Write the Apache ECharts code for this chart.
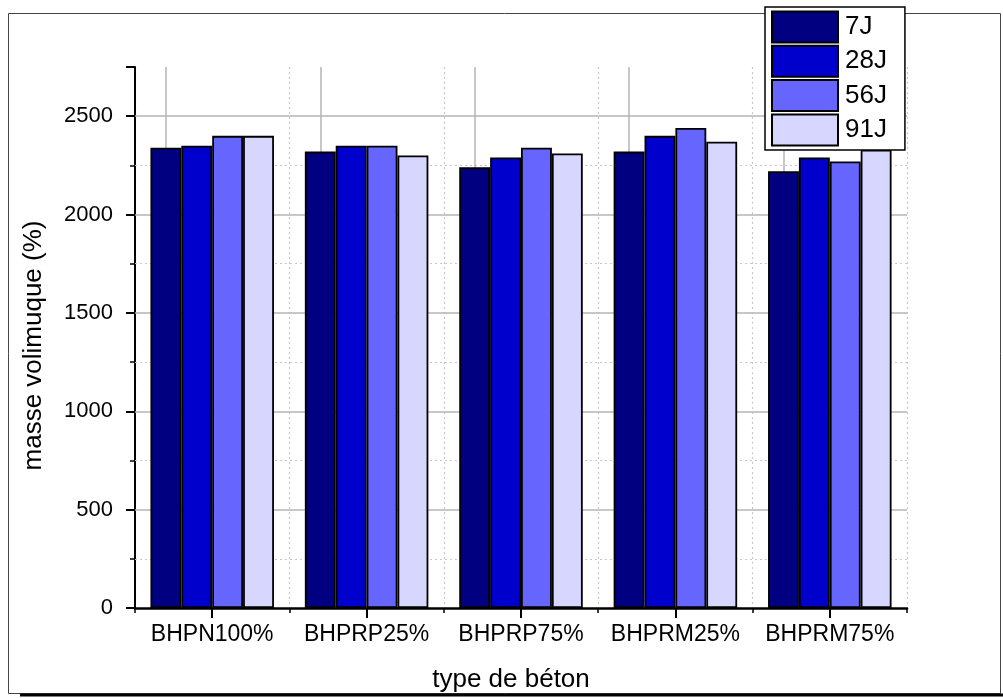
<!DOCTYPE html>
<html>
<head>
<meta charset="utf-8">
<script src="https://cdn.jsdelivr.net/npm/echarts@6/dist/echarts.min.js"></script>
<style>
html,body{margin:0;padding:0;background:#fff;}
#chart{width:1003px;height:698px;}
</style>
</head>
<body>
<div id="chart"></div>
<script>
const categories = ['BHPN100%', 'BHPRP25%', 'BHPRP75%', 'BHPRM25%', 'BHPRM75%'];
const seriesNames = ['7J', '28J', '56J', '91J'];
const values7J  = [2340, 2320, 2240, 2320, 2220];
const values28J = [2350, 2350, 2290, 2400, 2290];
const values56J = [2400, 2350, 2340, 2440, 2270];
const values91J = [2400, 2300, 2310, 2370, 2330];
const majorGridValues = [500, 1000, 1500, 2000, 2500];
const minorGridValues = [250, 750, 1250, 1750, 2250];
const yMax = 2750;

const colors = ['#000080', '#0000CD', '#6666FF', '#D6D6FF'];
const allValues = [values7J, values28J, values56J, values91J];
const FONT = '"Liberation Sans", Arial, sans-serif';

const chart = echarts.init(document.getElementById('chart'), null, {renderer: 'canvas'});

const gridMarkData = []
  .concat(majorGridValues.map(v => ({yAxis: v, lineStyle: {color: '#b4b4b4', width: 1.5, type: 'solid'}})))
  .concat(minorGridValues.map(v => ({yAxis: v, lineStyle: {color: '#c8c8c8', width: 1.2, type: [2, 3]}})))
  .concat(categories.map(c => ({xAxis: c, lineStyle: {color: '#b4b4b4', width: 1.5, type: 'solid'}})));

const series = seriesNames.map((name, i) => {
  const s = {
    name: name,
    type: 'bar',
    xAxisIndex: 0,
    yAxisIndex: 0,
    data: allValues[i],
    barGap: '0%',
    barCategoryGap: '20%',
    z: 2,
    itemStyle: {color: colors[i], borderColor: '#000', borderWidth: 1.8},
    emphasis: {disabled: true}
  };
  if (i === 0) {
    s.markLine = {
      silent: true,
      symbol: 'none',
      z: 1,
      label: {show: false},
      animation: false,
      data: gridMarkData
    };
  }
  return s;
});

const option = {
  animation: false,
  backgroundColor: '#fff',
  grid: {left: 135, right: 96, top: 67, bottom: 85.5, containLabel: false},
  legend: {
    data: seriesNames,
    orient: 'vertical',
    left: 765,
    top: 7,
    itemWidth: 66,
    itemHeight: 31,
    itemGap: 1.3,
    padding: [3.5, 18, 3.5, 6],
    backgroundColor: '#fff',
    borderColor: '#000',
    borderWidth: 1.5,
    icon: 'rect',
    selectedMode: false,
    textStyle: {fontFamily: FONT, fontSize: 26, lineHeight: 30, color: '#000', padding: [0, 0, 0, 2]}
  },
  xAxis: [
    {
      type: 'category',
      data: categories,
      position: 'bottom',
      axisLine: {show: true, onZero: false, lineStyle: {color: '#000', width: 2.5}},
      axisTick: {show: true, alignWithLabel: true, inside: false, length: 10, lineStyle: {color: '#000', width: 2}},
      axisLabel: {fontFamily: FONT, fontSize: 23, color: '#000', margin: 15, interval: 0, hideOverlap: false},
      splitLine: {show: false},
      name: 'type de béton',
      nameLocation: 'middle',
      nameGap: 59,
      nameTextStyle: {fontFamily: FONT, fontSize: 26, color: '#000', padding: [0, 20, 0, 0]}
    },
    {
      type: 'category',
      data: categories,
      position: 'bottom',
      axisLine: {show: false},
      axisTick: {show: true, alignWithLabel: false, inside: false, length: 5, lineStyle: {color: '#000', width: 1.5}},
      axisLabel: {show: false},
      splitLine: {show: true, lineStyle: {color: '#c8c8c8', width: 1.2, type: [2, 3]}}
    }
  ],
  yAxis: [
    {
      type: 'value',
      min: 0,
      max: yMax,
      interval: 500,
      position: 'left',
      axisLine: {show: true, onZero: false, lineStyle: {color: '#000', width: 2}},
      axisTick: {show: true, inside: false, length: 9, lineStyle: {color: '#000', width: 2}},
      axisLabel: {
        fontFamily: FONT, fontSize: 22, color: '#000', margin: 22,
        formatter: v => (v % 500 === 0 ? String(v) : '')
      },
      splitLine: {show: false},
      name: 'masse volimuque (%)',
      nameLocation: 'middle',
      nameRotate: 90,
      nameGap: 88,
      nameTextStyle: {fontFamily: FONT, fontSize: 26, color: '#000', padding: [0, 16, 0, 0]}
    },
    {
      type: 'value',
      min: 0,
      max: yMax,
      interval: 250,
      position: 'left',
      offset: 0,
      axisLine: {show: false},
      axisTick: {show: true, inside: false, length: 5, lineStyle: {color: '#000', width: 1.5}},
      axisLabel: {show: false},
      splitLine: {show: false}
    }
  ],
  series: series,
  graphic: [
    {
      type: 'rect',
      z: -10,
      silent: true,
      shape: {x: 8.5, y: 13.5, width: 992, height: 680},
      style: {fill: 'none', stroke: '#444', lineWidth: 1}
    },
    {
      type: 'line',
      z: -10,
      silent: true,
      shape: {x1: 20, y1: 695, x2: 1003, y2: 695},
      style: {stroke: '#000', lineWidth: 3}
    }
  ]
};

chart.setOption(option);
</script>
</body>
</html>
